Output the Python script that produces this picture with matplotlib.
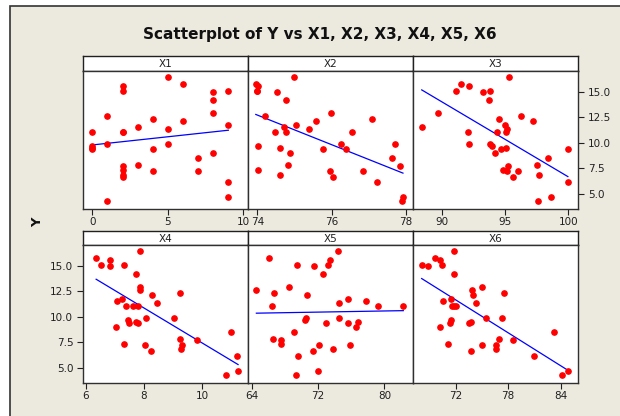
import numpy as np
import matplotlib
matplotlib.use('Agg')
import matplotlib.pyplot as plt
from matplotlib.patches import Rectangle
from matplotlib.ticker import FormatStrFormatter

# response, sorted high to low
y = [16.47, 15.81, 15.62, 15.07, 15.07, 14.97, 14.22, 12.98, 12.65, 12.33,
     12.13, 11.80, 11.58, 11.38, 11.06, 11.06, 11.06, 9.92, 9.92, 9.69,
     9.46, 9.36, 9.36, 8.97, 8.55, 7.80, 7.70, 7.38, 7.28, 7.25,
     6.82, 6.63, 6.20, 4.74, 4.32]

x1 = [5, 6, 2, 9, 2, 8, 8, 8, 1, 4,
      6, 9, 3, 5, 0, 2, 2, 1, 5, 0,
      0, 0, 4, 8, 7, 3, 2, 2, 4, 7,
      2, 2, 9, 9, 1]
x2 = [74.99, 73.96, 74.03, 74.00, 74.00, 74.52, 74.78, 75.97, 74.22, 77.08,
      75.59, 75.04, 74.73, 75.40, 74.47, 74.76, 76.56, 76.24, 77.71, 74.03,
      74.60, 75.78, 76.39, 74.87, 77.63, 74.83, 77.83, 74.03, 76.84, 75.95,
      74.60, 76.04, 77.23, 77.92, 77.89]
x3 = [95.34, 91.50, 92.18, 91.16, 93.80, 93.30, 93.70, 89.70, 96.26, 94.55,
      97.20, 95.00, 88.42, 95.16, 92.08, 94.40, 95.08, 92.18, 93.84, 93.97,
      95.08, 94.71, 99.97, 94.20, 98.40, 97.55, 95.24, 94.84, 96.00, 95.16,
      97.70, 95.60, 99.95, 98.66, 97.63]
x4 = [7.85, 6.36, 6.84, 6.51, 7.33, 6.84, 7.71, 7.85, 7.85, 9.23,
      8.26, 7.26, 7.08, 8.45, 7.37, 7.63, 7.78, 8.07, 9.01, 7.44,
      7.71, 7.47, 7.78, 7.03, 10.99, 9.23, 9.83, 7.33, 9.31, 8.05,
      9.28, 8.23, 11.17, 11.22, 10.80]
x5 = [74.45, 66.09, 73.41, 69.47, 73.25, 71.56, 72.60, 68.54, 64.56, 66.65,
      70.63, 75.62, 77.83, 74.57, 66.49, 79.28, 82.29, 70.51, 74.57, 70.43,
      76.82, 73.00, 75.62, 76.54, 69.10, 66.61, 67.54, 67.54, 75.86, 72.12,
      73.81, 71.44, 69.59, 71.96, 69.35]
x6 = [71.81, 69.68, 70.21, 68.11, 70.48, 68.84, 71.81, 75.01, 73.90, 77.52,
      74.02, 71.43, 70.59, 74.29, 71.54, 71.77, 72.08, 75.43, 77.26, 71.47,
      73.79, 71.31, 73.56, 70.21, 83.28, 76.99, 78.51, 71.09, 76.65, 75.01,
      76.65, 73.79, 80.95, 84.80, 84.19]

names = ['X1', 'X2', 'X3', 'X4', 'X5', 'X6']
xdata = [x1, x2, x3, x4, x5, x6]
xlims = [(-0.62, 10.3), (73.75, 78.19), (87.73, 100.77),
         (5.91, 11.56), (63.55, 83.46), (67.12, 85.98)]
xticks = [[0, 5, 10], [74, 76, 78], [90, 95, 100],
          [6, 8, 10], [64, 72, 80], [72, 78, 84]]
yticks = [5.0, 7.5, 10.0, 12.5, 15.0]

W, H = 620, 416
bg = '#ECE9DF'

def box(l, t, r, b):
    return [l / W, 1 - b / H, (r - l) / W, (b - t) / H]

fig = plt.figure(figsize=(W / 100, H / 100), dpi=100)
fig.patch.set_facecolor('white')
fig.patches.append(Rectangle((10 / W, -0.1), 1.1, 1 - 6 / H + 0.1,
                             transform=fig.transFigure, facecolor=bg,
                             edgecolor='#333333', linewidth=1.2, zorder=-10))

cols = [(83, 248), (248, 413), (413, 578)]
rows = [(56, 71, 209), (231, 245, 383)]

for i, name in enumerate(names):
    r, c = divmod(i, 3)
    l, rr = cols[c]
    top, mid, bot = rows[r]

    # strip header
    hd = fig.add_axes(box(l, top, rr, mid))
    hd.set_facecolor('white')
    hd.set_xticks([])
    hd.set_yticks([])
    for s in hd.spines.values():
        s.set_color('#202020')
        s.set_linewidth(1.0)
    hd.text(0.5, 0.45, name, ha='center', va='center', fontsize=7.5, color='#202020')

    ax = fig.add_axes(box(l, mid, rr, bot))
    ax.set_facecolor('white')
    xs = np.array(xdata[i], dtype=float)
    ys = np.array(y)
    ax.plot(xs, ys, 'o', color='#FF0000', ms=3.8, mec='#FF0000', zorder=3)
    # least squares fit line
    b1, b0 = np.polyfit(xs, ys, 1)
    xx = np.array([xs.min(), xs.max()])
    ax.plot(xx, b0 + b1 * xx, color='#0000FF', lw=0.9, zorder=2)

    ax.set_xlim(*xlims[i])
    ax.set_ylim(3.53, 17.05)
    ax.set_xticks(xticks[i])
    ax.tick_params(axis='x', direction='out', length=4, width=0.8,
                   labelsize=7.5, colors='#202020', pad=2)
    for s in ax.spines.values():
        s.set_color('#303030')
        s.set_linewidth(1.0)

    if r == 0 and c == 2:
        ax.yaxis.tick_right()
        ax.set_yticks(yticks)
        ax.yaxis.set_major_formatter(FormatStrFormatter('%.1f'))
        ax.tick_params(axis='y', direction='out', length=4, width=0.8,
                       labelsize=7.5, colors='#202020', pad=3)
    elif r == 1 and c == 0:
        ax.set_yticks(yticks)
        ax.yaxis.set_major_formatter(FormatStrFormatter('%.1f'))
        ax.tick_params(axis='y', direction='out', length=4, width=0.8,
                       labelsize=7.5, colors='#202020', pad=3)
    else:
        ax.set_yticks([])

fig.text(320 / W, 1 - 35 / H, 'Scatterplot of Y vs X1, X2, X3, X4, X5, X6',
         ha='center', va='center', fontsize=11, fontweight='bold', color='#111111')
fig.text(38 / W, 1 - 222 / H, 'Y', ha='center', va='center', rotation=90,
         fontsize=9.5, fontweight='bold', color='#111111')

fig.savefig('out.png', dpi=100, facecolor=fig.get_facecolor())
